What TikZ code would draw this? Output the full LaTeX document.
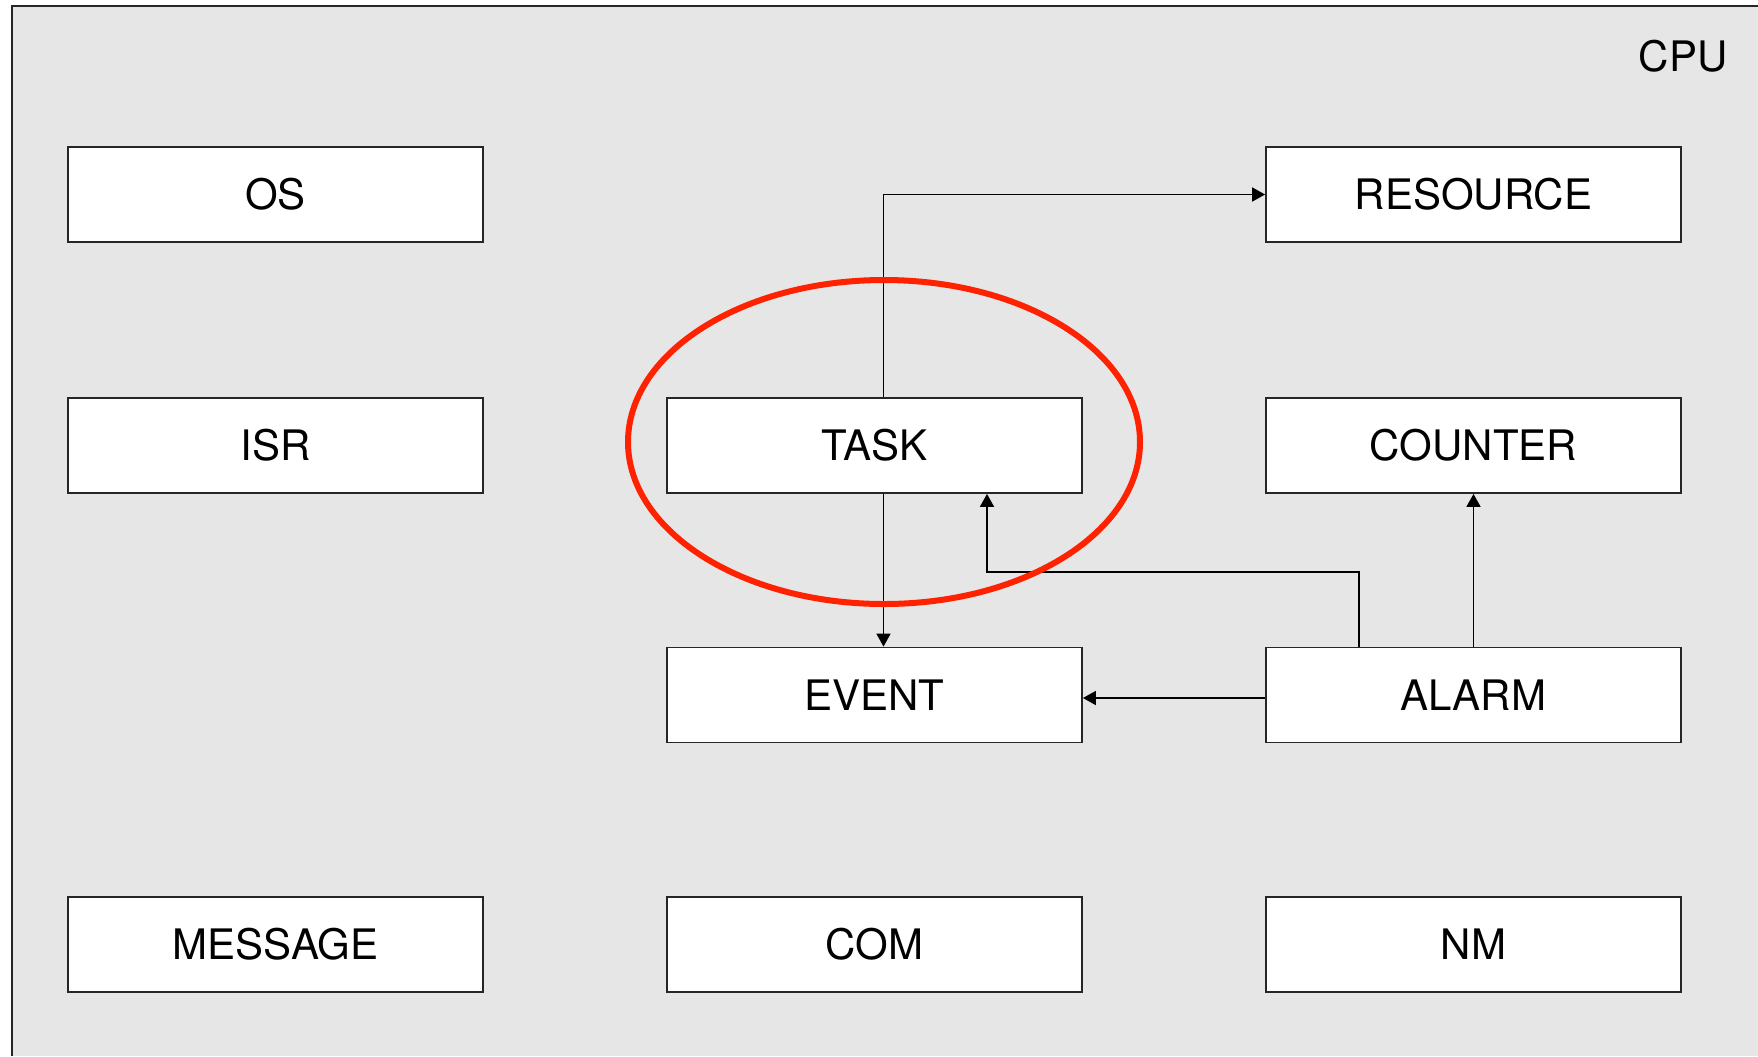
\documentclass[tikz,border=0pt]{standalone}
\usepackage{fontspec}
\setmainfont{TeX Gyre Heros}
\usetikzlibrary{arrows.meta}
\definecolor{bggrey}{HTML}{E6E6E6}
\definecolor{markred}{RGB}{255,34,0}
\tikzset{
  blk/.style={draw=black!85, line width=0.9pt, fill=white, rectangle, minimum width=207.5pt, minimum height=47.5pt, inner sep=0pt, font=\fontsize{21}{24}\selectfont},
  arr/.style={draw=black, line width=0.85pt, -{Triangle[length=6.5pt,width=7pt]}},
  lbl/.style={font=\fontsize{21}{24}\selectfont, inner sep=0pt}
}
\begin{document}
\begin{tikzpicture}[x=0.5pt,y=-0.5pt]
\useasboundingbox (0,0) rectangle (1758,1056);
\fill[white] (0,0) rectangle (1758,1056);
\fill[bggrey] (12,6) rectangle (1758,1056);
\draw[line width=1pt, black!85] (12,1056) -- (12,6) -- (1758,6);

\node[lbl] (cpu) at (1683,56) {CPU};

\node[blk] (os) at (275.5,194.5) {OS};
\node[blk] (resource) at (1473.5,194.5) {RESOURCE};
\node[blk] (isr) at (275.5,445.5) {ISR};
\node[blk] (task) at (874.5,445.5) {TASK};
\node[blk] (counter) at (1473.5,445.5) {COUNTER};
\node[blk] (event) at (874.5,695) {EVENT};
\node[blk] (alarm) at (1473.5,695) {ALARM};
\node[blk] (message) at (275.5,944.5) {MESSAGE};
\node[blk] (com) at (874.5,944.5) {COM};
\node[blk] (nm) at (1473.5,944.5) {NM};

\coordinate (k1) at (1359,572);
\coordinate (k2) at (987,572);

\draw[arr] ([xshift=4.5pt]task.north) |- (resource.west);
\draw[arr] ([xshift=4.5pt]task.south) -- ([xshift=4.5pt]event.north);
\draw[arr] ([xshift=-57.25pt]alarm.north) -- (k1) -- (k2) -- ([xshift=56.25pt]task.south);
\draw[arr] (alarm.north) -- (counter.south);
\draw[arr] ([yshift=-1.5pt]alarm.west) -- ([yshift=-1.5pt]event.east);

\draw[markred, line width=3pt] (884,442) ellipse [x radius=128pt, y radius=81pt];
\end{tikzpicture}
\end{document}
